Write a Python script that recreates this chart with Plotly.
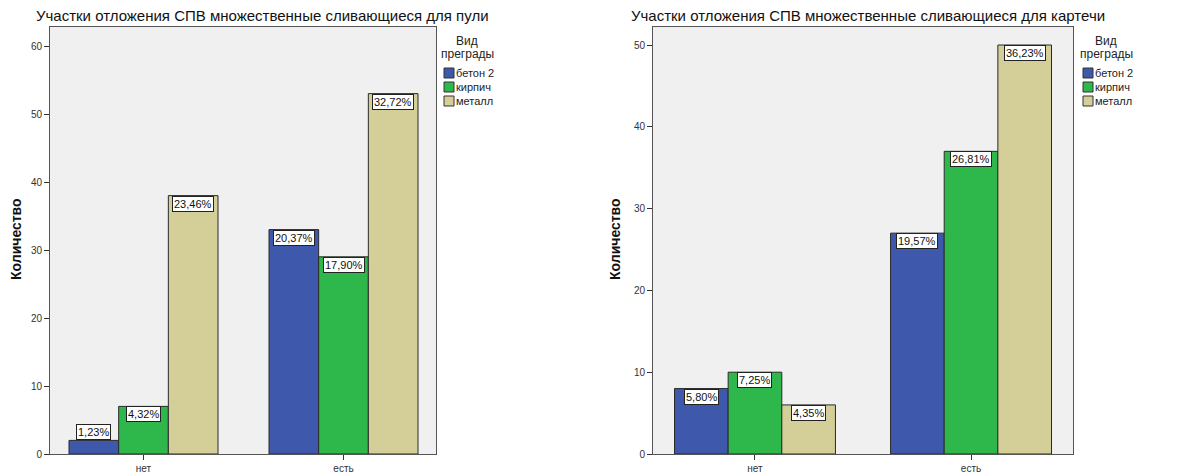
import plotly.graph_objects as go

# Data: counts of cases by obstacle type, split by presence of the feature
categories = ["нет", "есть"]
series_names = ["бетон 2", "кирпич", "металл"]
series_colors = ["#3E58AC", "#2EB84B", "#D4CE98"]

bullet_beton = [2, 33]
bullet_kirpich = [7, 29]
bullet_metall = [38, 53]

buckshot_beton = [8, 27]
buckshot_kirpich = [10, 37]
buckshot_metall = [6, 50]

bullet_title = "Участки отложения СПВ множественные сливающиеся для пули"
buckshot_title = "Участки отложения СПВ множественные сливающиеся для картечи"
y_title = "Количество"
legend_title_lines = ["Вид", "преграды"]

left_ticks = [0, 10, 20, 30, 40, 50, 60]
right_ticks = [0, 10, 20, 30, 40, 50]

W, H = 1204, 476
FONT = "Liberation Sans, Arial, sans-serif"
BARGAP = 0.255

# panel geometry in pixels
panels = [
    dict(x0=50, x1=436, xref="x", yref="y", xa="xaxis", ya="yaxis",
         series=[bullet_beton, bullet_kirpich, bullet_metall],
         yrange=[0, 62.8], xrange=[-0.4675, 1.4625], ticks=left_ticks,
         title=bullet_title, title_x=34, ytitle_x=16,
         legend_x=444, legend_title_x=467),
    dict(x0=653, x1=1073, xref="x2", yref="y2", xa="xaxis2", ya="yaxis2",
         series=[buckshot_beton, buckshot_kirpich, buckshot_metall],
         yrange=[0, 52.2], xrange=[-0.472, 1.472], ticks=right_ticks,
         title=buckshot_title, title_x=629, ytitle_x=615,
         legend_x=1083, legend_title_x=1106),
]
PLOT_TOP, PLOT_BOTTOM = 27, 454

fig = go.Figure()
annotations = []
shapes = []

for p in panels:
    for name, color, vals in zip(series_names, series_colors, p["series"]):
        fig.add_trace(go.Bar(
            x=categories, y=vals, name=name,
            marker=dict(color=color, line=dict(color="#2a2a2a", width=1)),
            xaxis=p["xref"], yaxis=p["yref"], showlegend=False,
            hoverinfo="skip",
        ))

    total = sum(sum(s) for s in p["series"])
    n = len(p["series"])
    bar_w = (1 - BARGAP) / n
    plot_h = PLOT_BOTTOM - PLOT_TOP
    for si, vals in enumerate(p["series"]):
        offset = -(1 - BARGAP) / 2 + bar_w * (si + 0.5)
        for ci, v in enumerate(vals):
            pct = v / total * 100
            label = f"{pct:.2f}%".replace(".", ",")
            bar_px = v / p["yrange"][1] * plot_h
            inside = bar_px > 24
            annotations.append(dict(
                x=ci + offset, y=v, xref=p["xref"], yref=p["yref"],
                text=label, showarrow=False,
                xanchor="center", yanchor="top" if inside else "bottom",
                font=dict(family=FONT, size=11, color="#111"),
                bgcolor="white", bordercolor="#222", borderwidth=1,
                borderpad=1,
            ))

    # panel title
    annotations.append(dict(
        x=p["title_x"] / W, y=1 - 15 / H, xref="paper", yref="paper",
        text=p["title"], showarrow=False, xanchor="left", yanchor="middle",
        font=dict(family=FONT, size=15, color="#111"),
    ))
    # y axis title
    annotations.append(dict(
        x=p["ytitle_x"] / W, y=1 - 239 / H, xref="paper", yref="paper",
        text=f"<b>{y_title}</b>", showarrow=False, textangle=-90,
        xanchor="center", yanchor="middle",
        font=dict(family=FONT, size=14, color="#111"),
    ))
    # legend title
    for li, line in enumerate(legend_title_lines):
        annotations.append(dict(
            x=p["legend_title_x"] / W, y=1 - (41 + 13 * li) / H,
            xref="paper", yref="paper",
            text=line, showarrow=False, xanchor="center", yanchor="middle",
            font=dict(family=FONT, size=12, color="#222"),
        ))
    # legend entries
    for i, (name, color) in enumerate(zip(series_names, series_colors)):
        yc = 73 + i * 14
        shapes.append(dict(
            type="rect", xref="paper", yref="paper",
            x0=p["legend_x"] / W, x1=(p["legend_x"] + 10) / W,
            y0=1 - (yc + 5) / H, y1=1 - (yc - 5) / H,
            fillcolor=color, line=dict(color="#333", width=1),
        ))
        annotations.append(dict(
            x=(p["legend_x"] + 10) / W, y=1 - yc / H, xref="paper", yref="paper",
            text=name, showarrow=False, xanchor="left", yanchor="middle",
            font=dict(family=FONT, size=11, color="#222"),
        ))

    axis_common = dict(
        showline=True, linecolor="#555", linewidth=1, mirror=True,
        showgrid=False, zeroline=False, automargin=False,
        ticks="outside", ticklen=5, tickcolor="#333",
        tickfont=dict(family=FONT, size=10, color="#333"),
    )
    fig.update_layout(**{
        p["xa"]: dict(
            domain=[p["x0"] / W, p["x1"] / W], range=p["xrange"],
            anchor=p["yref"], type="category", **axis_common,
        ),
        p["ya"]: dict(
            domain=[1 - PLOT_BOTTOM / H, 1 - PLOT_TOP / H], range=p["yrange"],
            anchor=p["xref"], tickvals=p["ticks"], **axis_common,
        ),
    })

fig.update_layout(
    width=W, height=H,
    margin=dict(l=0, r=0, t=0, b=0),
    paper_bgcolor="white", plot_bgcolor="#F0F0F0",
    barmode="group", bargap=BARGAP, bargroupgap=0,
    showlegend=False,
    annotations=annotations, shapes=shapes,
    font=dict(family=FONT),
)

fig.write_html("out.html")
